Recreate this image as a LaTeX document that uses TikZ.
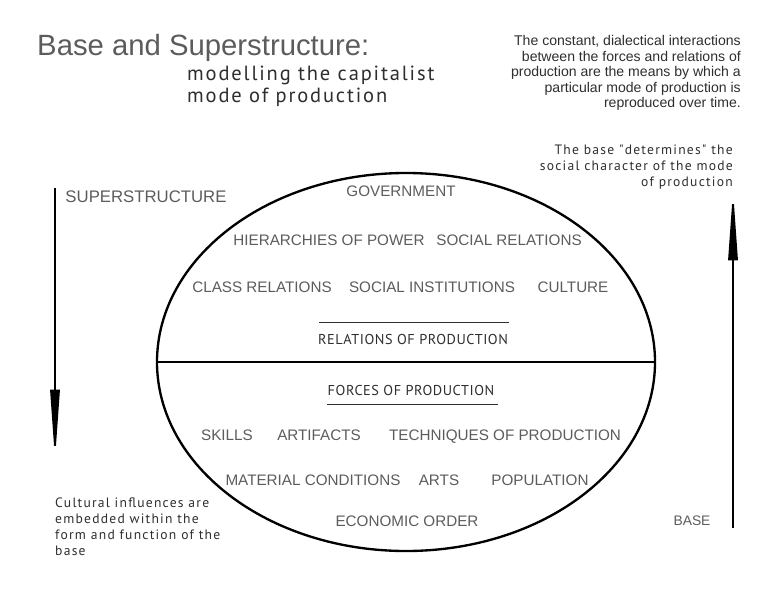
\documentclass[tikz,border=0pt]{standalone}
\usepackage{fontspec}
\setmainfont{Liberation Sans}
\newfontfamily\dinfont[LetterSpace=4]{PT Sans}
\newfontfamily\dinwide[LetterSpace=9]{PT Sans}
\usetikzlibrary{arrows.meta, positioning, shapes.geometric}
\definecolor{thingray}{HTML}{5C5C5C}
\definecolor{textgray}{HTML}{2E2E2E}

\begin{document}
\begin{tikzpicture}[x=0.03cm, y=-0.03cm, inner sep=0pt,
  thinlabel/.style={font=\fontsize{13}{15}\selectfont, text=thingray, text depth=0pt},
  dinlabel/.style={font=\dinfont\fontsize{12.2}{15}\selectfont, text=textgray, text depth=0pt},
  note/.style={font=\dinwide\fontsize{11.6}{13.6}\selectfont, text=textgray},
  bigarrow/.style={line width=1.6pt, -{Triangle[length=60pt, width=8pt]}}]
\useasboundingbox (0,0) rectangle (768,594);

\node[anchor=base west, font=\fontsize{25}{28}\selectfont, text=thingray] (title) at (37,56) {Base and Superstructure:};
\node[anchor=north west, align=left, font=\dinwide\fontsize{17.5}{18.7}\selectfont, text=textgray] (subtitle) at (187,66) {modelling the capitalist\\mode of production};

\node[anchor=north east, align=right, font=\fontsize{12}{13.3}\selectfont, text=textgray] (dialectic) at (741,35) {The constant, dialectical interactions\\between the forces and relations of\\production are the means by which a\\particular mode of production is\\reproduced over time.};

\node[note, anchor=north east, align=right] (determines) at (733,145) {The base "determines" the\\social character of the mode\\of production};
\node[note, anchor=north west, align=left] (cultural) at (55,498) {Cultural influences are\\embedded within the\\form and function of the\\base};

\node[thinlabel, font=\fontsize{14.3}{16}\selectfont] (super) at (146,197) {SUPERSTRUCTURE};
\node[thinlabel, font=\fontsize{11.8}{14}\selectfont] (base) at (692,521) {BASE};

\node[draw, ellipse, line width=2pt, minimum width=498*0.03cm, minimum height=378*0.03cm] (ell) at (406,362) {};
\draw[line width=1.4pt] (ell.west) -- (ell.east);

\node[thinlabel] (gov) at (401,191) {GOVERNMENT};
\node[thinlabel] (hier) at (329,240) {HIERARCHIES OF POWER};
\node[thinlabel] (socrel) at (509,240) {SOCIAL RELATIONS};
\node[thinlabel] (classrel) at (262,287) {CLASS RELATIONS};
\node[thinlabel] (socinst) at (432,287) {SOCIAL INSTITUTIONS};
\node[thinlabel] (culture) at (573,287) {CULTURE};
\node[dinlabel] (relprod) at (413,339) {RELATIONS OF PRODUCTION};
\draw[thick, textgray] (319,322) -- (509,322);

\node[dinlabel] (forprod) at (411,390) {FORCES OF PRODUCTION};
\draw[thick, textgray] (327,404) -- (498,404);
\node[thinlabel] (skills) at (227,435) {SKILLS};
\node[thinlabel] (artifacts) at (319,435) {ARTIFACTS};
\node[thinlabel] (tech) at (505,435) {TECHNIQUES OF PRODUCTION};
\node[thinlabel] (matcond) at (313,480) {MATERIAL CONDITIONS};
\node[thinlabel] (arts) at (439,480) {ARTS};
\node[thinlabel] (pop) at (540,480) {POPULATION};
\node[thinlabel] (econ) at (407,521) {ECONOMIC ORDER};

\coordinate (supertop) at (55,188);
\coordinate (superbot) at (55,460);
\coordinate (basebot) at (733,528);
\coordinate (basetop) at (733,190);
\draw[bigarrow] (supertop) -- (superbot);
\draw[bigarrow] (basebot) -- (basetop);
\end{tikzpicture}
\end{document}
